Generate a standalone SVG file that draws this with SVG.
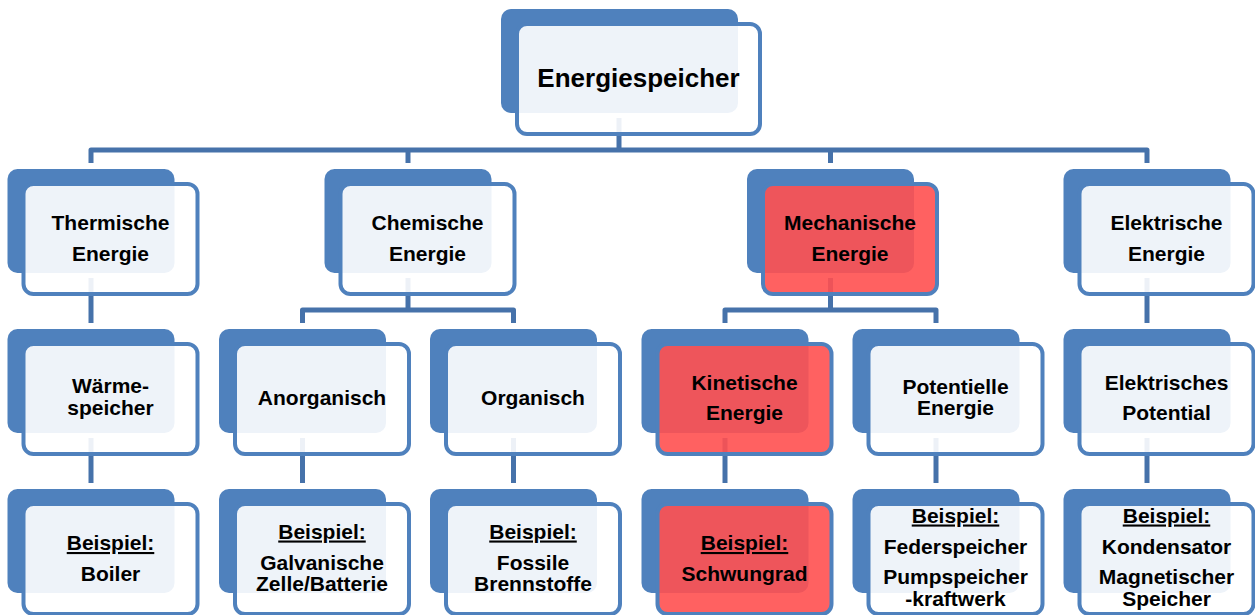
<svg xmlns="http://www.w3.org/2000/svg" width="1255" height="615" viewBox="0 0 1255 615">
<style>
.back{fill:#4F81BD}
.front{fill:#FFFFFF;fill-opacity:0.9;stroke:#4F81BD;stroke-width:4}
.front.hl{fill:#FF5050;fill-opacity:0.9}
.conn path{fill:none;stroke:#4672AA;stroke-width:5;stroke-linejoin:round}
text{font-family:"Liberation Sans",Arial,sans-serif;font-weight:bold;font-size:21px;text-anchor:middle;fill:#000}
.big{font-size:26px}
.u{text-decoration:underline}
</style>
<rect width="1255" height="615" fill="#FFFFFF"/>
<g id="connectors" class="conn">
<path d="M619 118 V150"/>
<path d="M91 163 V150 H1147 V163"/>
<path d="M408 150 V163"/>
<path d="M830.5 150 V163"/>
<path d="M91 278 V323"/>
<path d="M408 278 V310"/>
<path d="M302.5 323 V310 H513.5 V323"/>
<path d="M830.5 278 V310"/>
<path d="M725 323 V310 H936 V323"/>
<path d="M1147 278 V323"/>
<path d="M91 438 V483"/>
<path d="M302.5 438 V483"/>
<path d="M513.5 438 V483"/>
<path d="M725 438 V483"/>
<path d="M936 438 V483"/>
<path d="M1147 438 V483"/>
</g>
<g id="energiespeicher">
<rect class="back" x="501" y="9" width="237" height="104" rx="10"/>
<rect class="front" x="517" y="24" width="243" height="110" rx="10"/>
<text class="big" x="638.5" y="87">Energiespeicher</text>
</g>
<g id="thermische">
<rect class="back" x="7.5" y="169" width="167" height="104" rx="10"/>
<rect class="front" x="23.5" y="184" width="174" height="110" rx="10"/>
<text x="110.5" y="230">Thermische</text>
<text x="110.5" y="260.5">Energie</text>
</g>
<g id="chemische">
<rect class="back" x="324.5" y="169" width="167" height="104" rx="10"/>
<rect class="front" x="340.5" y="184" width="174" height="110" rx="10"/>
<text x="427.5" y="230">Chemische</text>
<text x="427.5" y="260.5">Energie</text>
</g>
<g id="mechanische">
<rect class="back" x="747" y="169" width="167" height="104" rx="10"/>
<rect class="front hl" x="763" y="184" width="174" height="110" rx="10"/>
<text x="850" y="230">Mechanische</text>
<text x="850" y="260.5">Energie</text>
</g>
<g id="elektrische">
<rect class="back" x="1063.5" y="169" width="167" height="104" rx="10"/>
<rect class="front" x="1079.5" y="184" width="174" height="110" rx="10"/>
<text x="1166.5" y="230">Elektrische</text>
<text x="1166.5" y="260.5">Energie</text>
</g>
<g id="waermespeicher">
<rect class="back" x="7.5" y="329" width="167" height="104" rx="10"/>
<rect class="front" x="23.5" y="344" width="174" height="110" rx="10"/>
<text x="110.5" y="392.5">Wärme-</text>
<text x="110.5" y="414.5">speicher</text>
</g>
<g id="anorganisch">
<rect class="back" x="219" y="329" width="167" height="104" rx="10"/>
<rect class="front" x="235" y="344" width="174" height="110" rx="10"/>
<text x="322" y="405">Anorganisch</text>
</g>
<g id="organisch">
<rect class="back" x="430" y="329" width="167" height="104" rx="10"/>
<rect class="front" x="446" y="344" width="174" height="110" rx="10"/>
<text x="533" y="405">Organisch</text>
</g>
<g id="kinetische">
<rect class="back" x="641.5" y="329" width="167" height="104" rx="10"/>
<rect class="front hl" x="657.5" y="344" width="174" height="110" rx="10"/>
<text x="744.5" y="389.5">Kinetische</text>
<text x="744.5" y="420">Energie</text>
</g>
<g id="potentielle">
<rect class="back" x="852.5" y="329" width="167" height="104" rx="10"/>
<rect class="front" x="868.5" y="344" width="174" height="110" rx="10"/>
<text x="955.5" y="393.5">Potentielle</text>
<text x="955.5" y="415">Energie</text>
</g>
<g id="elektrisches-potential">
<rect class="back" x="1063.5" y="329" width="167" height="104" rx="10"/>
<rect class="front" x="1079.5" y="344" width="174" height="110" rx="10"/>
<text x="1166.5" y="390">Elektrisches</text>
<text x="1166.5" y="420">Potential</text>
</g>
<g id="boiler">
<rect class="back" x="7.5" y="489" width="167" height="104" rx="10"/>
<rect class="front" x="23.5" y="504" width="174" height="110" rx="10"/>
<text class="u" x="110.5" y="550">Beispiel:</text>
<text x="110.5" y="580.5">Boiler</text>
</g>
<g id="galvanische">
<rect class="back" x="219" y="489" width="167" height="104" rx="10"/>
<rect class="front" x="235" y="504" width="174" height="110" rx="10"/>
<text class="u" x="322" y="538.5">Beispiel:</text>
<text x="322" y="570">Galvanische</text>
<text x="322" y="591">Zelle/Batterie</text>
</g>
<g id="fossile">
<rect class="back" x="430" y="489" width="167" height="104" rx="10"/>
<rect class="front" x="446" y="504" width="174" height="110" rx="10"/>
<text class="u" x="533" y="538.5">Beispiel:</text>
<text x="533" y="569.5">Fossile</text>
<text x="533" y="591">Brennstoffe</text>
</g>
<g id="schwungrad">
<rect class="back" x="641.5" y="489" width="167" height="104" rx="10"/>
<rect class="front hl" x="657.5" y="504" width="174" height="110" rx="10"/>
<text class="u" x="744.5" y="550">Beispiel:</text>
<text x="744.5" y="580.5">Schwungrad</text>
</g>
<g id="federspeicher">
<rect class="back" x="852.5" y="489" width="167" height="104" rx="10"/>
<rect class="front" x="868.5" y="504" width="174" height="110" rx="10"/>
<text class="u" x="955.5" y="522.5">Beispiel:</text>
<text x="955.5" y="554">Federspeicher</text>
<text x="955.5" y="584">Pumpspeicher</text>
<text x="955.5" y="606">-kraftwerk</text>
</g>
<g id="kondensator">
<rect class="back" x="1063.5" y="489" width="167" height="104" rx="10"/>
<rect class="front" x="1079.5" y="504" width="174" height="110" rx="10"/>
<text class="u" x="1166.5" y="522.5">Beispiel:</text>
<text x="1166.5" y="554">Kondensator</text>
<text x="1166.5" y="584">Magnetischer</text>
<text x="1166.5" y="606">Speicher</text>
</g>
</svg>
